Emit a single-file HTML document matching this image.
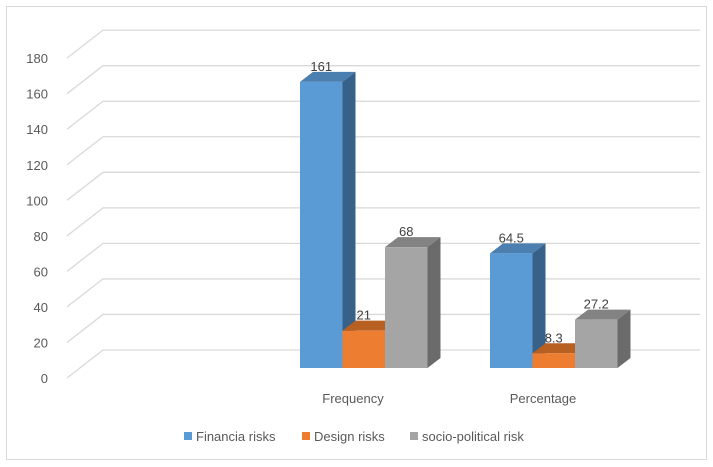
<!DOCTYPE html>
<html><head><style>
body{margin:0;background:#fff;}
svg{display:block;font-family:"Liberation Sans",Calibri,sans-serif;}
</style></head><body>
<svg id="c" width="713" height="467">
<rect x="6.5" y="6.5" width="700" height="453" fill="#fff" stroke="#d9d9d9"/>
<g id="grid"></g><g id="bars"></g><g id="labels"></g>
</svg>
<script>
const categories=["Frequency","Percentage"];
const seriesNames=["Financia risks","Design risks","socio-political risk"];
const financia=[161,64.5];
const design=[21,8.3];
const socio=[68,27.2];
const ticks=[0,20,40,60,80,100,120,140,160,180];
const NS="http://www.w3.org/2000/svg";
const svg=document.getElementById('c');
function mk(t,a,p){const e=document.createElementNS(NS,t);for(const k in a)e.setAttribute(k,a[k]);(p||svg).appendChild(e);return e;}
const scale=1.777;
const yFront=v=>378-v*scale, yBack=v=>350-v*scale;
const g=document.getElementById('grid');
ticks.forEach(t=>{
  const l=mk('polyline',{points:`67,${yFront(t)} 103,${yBack(t)} 700,${yBack(t)}`,fill:'none',stroke:'#d9d9d9','stroke-width':1.3},g);
  
  
  const tx=mk('text',{x:48,y:yFront(t)+5,'text-anchor':'end','font-size':13,fill:'#595959'},g);
  tx.textContent=t;
  
  
});
const colors=[["#5b9bd5","#4a7fb0","#386189"],["#ed7d31","#b85f22","#b85f22"],["#a5a5a5","#838383","#6b6b6b"]];
const series=[financia,design,socio];
const groupX=[300,490], bw=42.5, base=368, dx=13, dy=10;
const b=document.getElementById('bars');
categories.forEach((c,ci)=>{
  series.forEach((s,si)=>{
    const v=s[ci], x=groupX[ci]+si*bw, top=base-v*scale;
    const grp=mk('g',{},b);
    
    
    mk('polygon',{points:`${x},${top} ${x+dx},${top-dy} ${x+bw+dx},${top-dy} ${x+bw},${top}`,fill:colors[si][1]},grp);
    mk('polygon',{points:`${x+bw},${top} ${x+bw+dx},${top-dy} ${x+bw+dx},${base-dy} ${x+bw},${base}`,fill:colors[si][2]},grp);
    mk('rect',{x:x,y:top,width:bw,height:base-top,fill:colors[si][0]},grp);
    const t=mk('text',{x:x+bw/2,y:top-dy-1,'text-anchor':'middle','font-size':13,fill:'#404040'},b);
    t.textContent=v;
    
    
  });
  const cl=mk('text',{x:groupX[ci]+53,y:403,'text-anchor':'middle','font-size':13,fill:'#595959'},b);
  cl.textContent=c;
  
  
});
const legX=[184,302,410];
seriesNames.forEach((n,i)=>{
  const lg=mk('g',{},document.getElementById('labels'));
  
  
  mk('rect',{x:legX[i],y:432,width:8,height:8,fill:colors[i][0]},lg);
  const t=mk('text',{x:legX[i]+12,y:441,'font-size':13,fill:'#595959'},lg);
  t.textContent=n;
});
</script>
</body></html>
